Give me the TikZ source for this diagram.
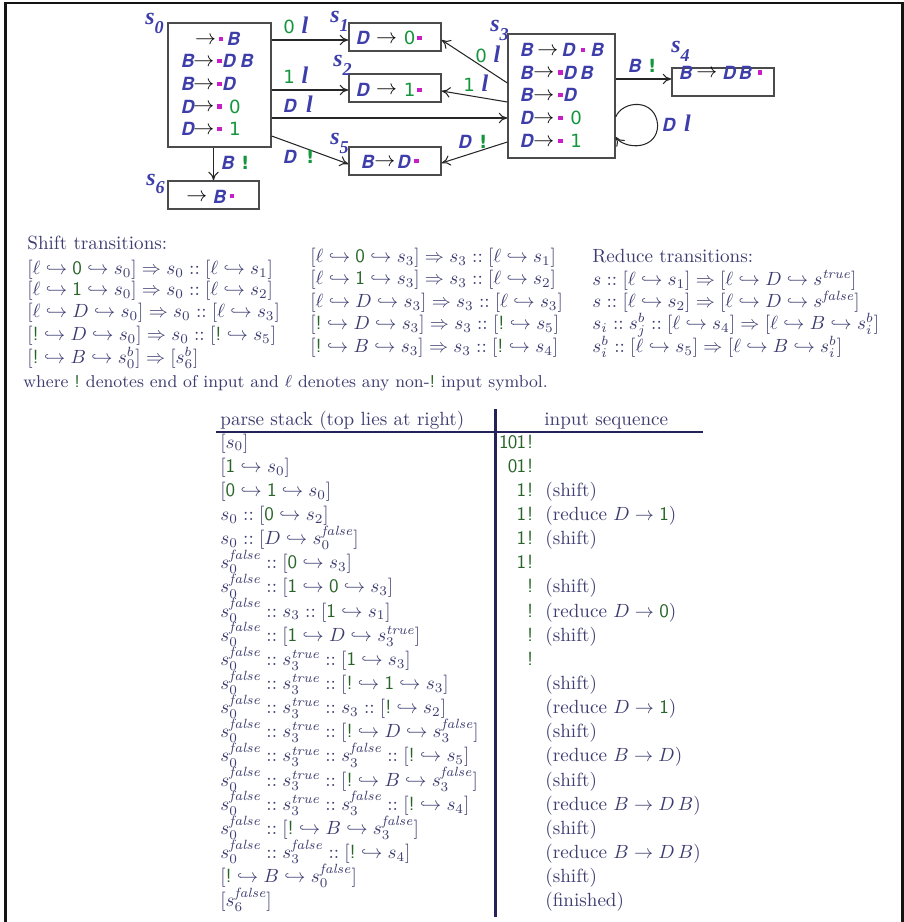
\documentclass[tikz,border=0pt]{standalone}
\usepackage{fontspec}
\usetikzlibrary{calc,arrows.meta}
\newfontfamily\hvfont{TeX Gyre Heros}
\newfontfamily\dvfont{DejaVu Sans}
\newfontfamily\lsfont{Liberation Serif}
\definecolor{dblue}{RGB}{62,62,170}
\definecolor{dgreen}{RGB}{20,150,60}
\definecolor{dmag}{RGB}{200,30,200}
\definecolor{txtc}{RGB}{60,60,112}
\definecolor{tgreen}{RGB}{40,100,40}
\definecolor{rulec}{RGB}{35,35,90}
\definecolor{boxc}{RGB}{75,75,75}
% diagram glyphs
\newcommand\Bn{{\color{dblue}\hvfont\bfseries\itshape B}}
\newcommand\Dn{{\color{dblue}\hvfont\bfseries\itshape D}}
\newcommand\arw{\raisebox{0.8pt}{\color{black}\fontsize{11}{11}\selectfont$\rightarrow$}}
\newcommand\mdot{{\color{dmag}\rule[2.4pt]{2.3pt}{2.3pt}}}
\newcommand\gZ{{\color{dgreen}\dvfont 0}}
\newcommand\gO{{\color{dgreen}\dvfont 1}}
\newcommand\gX{{\color{dgreen}\dvfont\bfseries !}}
\newcommand\ellab{{\color{dblue}\lsfont\bfseries\itshape\fontsize{12.5}{13}\selectfont l}}
\newcommand\stl[1]{{\color{dblue}\lsfont\bfseries\itshape\fontsize{12.5}{13}\selectfont s\raisebox{-4.2pt}{\fontsize{9.5}{10}\selectfont #1}}}
% text glyphs
\newcommand\tz{\mbox{\color{tgreen}\sffamily 0}}
\newcommand\tn{\mbox{\color{tgreen}\sffamily 1}}
\newcommand\tb{\mbox{\color{tgreen}\sffamily !}}
\newcommand\tcell[1]{\makebox[4.6pt]{\color{tgreen}\sffamily #1}}
\newcommand\hk{\hookrightarrow}
\newcommand\pc{\mathrel{::}}
\newcommand\fa{\mathit{false}}
\newcommand\tru{\mathit{true}}
\tikzset{
 x=0.5236pt, y=-0.5236pt,
 stbox/.style={draw=boxc, line width=0.7pt, inner sep=0pt},
 rowt/.style={anchor=base west, inner sep=0pt, font=\fontsize{9.5}{10}\selectfont},
 slab/.style={anchor=base west, inner sep=0pt},
 elab/.style={anchor=base west, inner sep=0pt, font=\fontsize{9.5}{10}\selectfont},
 conn/.style={draw=black!85, line width=0.55pt, -{To[length=4.5pt,width=5.5pt]}},
 txt/.style={anchor=base west, inner sep=0pt, text=txtc, font=\fontsize{10}{12}\selectfont},
 txtr/.style={anchor=base east, inner sep=0pt, text=txtc, font=\fontsize{10}{12}\selectfont},
 rulel/.style={draw=rulec, line width=1.1pt},
}
\begin{document}
\begin{tikzpicture}
\useasboundingbox (0,0) rectangle (904,922);
% frame
\draw[line width=1.4pt, draw=black!92] (5.3,922) -- (5.3,3) -- (902.5,3) -- (902.5,922);

% ---------- state boxes ----------
\node[stbox, minimum width=53.9pt, minimum height=64.9pt] (s0) at (219.5,85) {};
\node[stbox, minimum width=48.2pt, minimum height=14.7pt] (s1) at (395,37) {};
\node[stbox, minimum width=48.2pt, minimum height=14.7pt] (s2) at (395,88) {};
\node[stbox, minimum width=48.2pt, minimum height=14.7pt] (s5) at (395,161) {};
\node[stbox, minimum width=47.6pt, minimum height=14.7pt] (s6) at (213.5,195) {};
\node[stbox, minimum width=56pt, minimum height=64.9pt] (s3) at (561.5,96) {};
\node[stbox, minimum width=53.4pt, minimum height=14.7pt] (s4) at (723,82) {};

% state labels
\node[slab] (ls0) at (145,25) {\stl{0}};
\node[slab] (ls1) at (330,23) {\stl{1}};
\node[slab] (ls2) at (333,67) {\stl{2}};
\node[slab] (ls5) at (330,145) {\stl{5}};
\node[slab] (ls6) at (146,185) {\stl{6}};
\node[slab] (ls3) at (490,32) {\stl{3}};
\node[slab] (ls4) at (671,53) {\stl{4}};

% items of s0
\node[rowt] (s0a) at (181,45.7) {\makebox[7.2pt][l]{}\arw\hspace{1.5pt}\mdot\hspace{2pt}\Bn};
\node[rowt] (s0b) at (181,67.7) {\makebox[6.3pt][l]{\Bn}\arw\hspace{1.5pt}\mdot\hspace{0.5pt}\Dn\hspace{2.5pt}\Bn};
\node[rowt] (s0c) at (181,90.7) {\makebox[6.3pt][l]{\Bn}\arw\hspace{1.5pt}\mdot\hspace{0.5pt}\Dn};
\node[rowt] (s0d) at (181,113.3) {\makebox[6.3pt][l]{\Dn}\arw\hspace{1.5pt}\mdot\hspace{4pt}\gZ};
\node[rowt] (s0e) at (181,136) {\makebox[6.3pt][l]{\Dn}\arw\hspace{1.5pt}\mdot\hspace{4pt}\gO};
% items of s1, s2, s5, s6
\node[rowt] (s1a) at (356,45) {\Dn\hspace{3.5pt}\arw\hspace{3.5pt}\gZ\hspace{1pt}\mdot};
\node[rowt] (s2a) at (356,96.5) {\Dn\hspace{3.5pt}\arw\hspace{3.5pt}\gO\hspace{1pt}\mdot};
\node[rowt] (s5a) at (361,168) {\Bn\arw\hspace{1pt}\Dn\hspace{2pt}\mdot};
\node[rowt] (s6a) at (186,203) {\arw\hspace{3pt}\Bn\hspace{2pt}\mdot};
% items of s3
\node[rowt] (s3a) at (520,56.7) {\Bn\hspace{2pt}\arw\hspace{2pt}\Dn\hspace{3pt}\mdot\hspace{3pt}\Bn};
\node[rowt] (s3b) at (520,79.3) {\Bn\arw\hspace{2pt}\mdot\hspace{0.5pt}\Dn\hspace{2pt}\Bn};
\node[rowt] (s3c) at (520,101.7) {\Bn\arw\hspace{2pt}\mdot\hspace{0.5pt}\Dn};
\node[rowt] (s3d) at (520,125) {\Dn\arw\hspace{2pt}\mdot\hspace{4pt}\gZ};
\node[rowt] (s3e) at (520,147.7) {\Dn\arw\hspace{2pt}\mdot\hspace{4pt}\gO};
% item of s4
\node[rowt] (s4a) at (679,79.3) {\Bn\hspace{2pt}\arw\hspace{3pt}\Dn\hspace{1.5pt}\Bn\hspace{3pt}\mdot};

% ---------- connectors ----------
\coordinate (in1) at ($(s1.west)+(0,3)$);
\coordinate (in2) at ($(s2.west)+(0,2)$);
\coordinate (in3) at ($(s3.west)+(0,22)$);
\coordinate (in5) at ($(s5.west)+(0,3)$);
\draw[conn] (s0.east |- in1) -- (in1);
\draw[conn] (s0.east |- in2) -- (in2);
\draw[conn] (s0.east |- in3) -- (in3);
\draw[conn] ($(s0.east)+(0,51)$) -- (in5);
\draw[conn] (s0.south -| s6.north) -- (s6.north);
\draw[conn] ($(s3.west)+(0,-13)$) -- ($(s1.east)+(0,3)$);
\draw[conn] ($(s3.west)+(0,6)$) -- ($(s2.east)+(0,3)$);
\draw[conn] ($(s3.west)+(0,46)$) -- ($(s5.east)+(0,2)$);
\coordinate (in4) at ($(s4.west)+(0,-3)$);
\draw[conn] (s3.east |- in4) -- (in4);
\coordinate (lpA) at ($(s3.east)+(0,21)$);
\coordinate (lpB) at ($(s3.east)+(0,41)$);
\draw[conn] (lpA) .. controls ($(lpA)+(7,-17)$) and ($(lpA)+(40,-19)$) .. ($(lpA)+(42,8)$)
  .. controls ($(lpA)+(42,33)$) and ($(lpB)+(10,13)$) .. (lpB);

% connector labels
\node[elab] (e01) at (283,34) {\gZ\hspace{3.5pt}\ellab};
\node[elab] (e02) at (283,84) {\gO\hspace{3.5pt}\ellab};
\node[elab] (e03) at (283,113) {\Dn\hspace{5pt}\ellab};
\node[elab] (e05) at (283,163) {\Dn\hspace{5pt}\gX};
\node[elab] (e06) at (221,170) {\Bn\hspace{3.5pt}\gX};
\node[elab] (e31) at (475,63) {\gZ\hspace{3.5pt}\ellab};
\node[elab] (e32) at (463,92) {\gO\hspace{3.5pt}\ellab};
\node[elab] (e35) at (458,148) {\Dn\hspace{4pt}\gX};
\node[elab] (e34) at (628,73) {\Bn\hspace{3.5pt}\gX};
\node[elab] (e33) at (662,131) {\Dn\hspace{4.5pt}\ellab};

% ---------- transitions ----------
\node[txt] (shT) at (27,249) {Shift transitions:};
\node[txt] (sh1) at (27,274.3) {$[\ell\hk\tz\hk s_0]\Rightarrow s_0\pc[\ell\hk s_1]$};
\node[txt] (sh2) at (27,295.3) {$[\ell\hk\tn\hk s_0]\Rightarrow s_0\pc[\ell\hk s_2]$};
\node[txt] (sh3) at (27,317.8) {$[\ell\hk D\hk s_0]\Rightarrow s_0\pc[\ell\hk s_3]$};
\node[txt] (sh4) at (27,340.3) {$[\tb\hk D\hk s_0]\Rightarrow s_0\pc[\tb\hk s_5]$};
\node[txt] (sh5) at (27,363.8) {$[\tb\hk B\hk s_0^b]\Rightarrow[s_6^b]$};

\node[txt] (sm1) at (310,262.3) {$[\ell\hk\tz\hk s_3]\Rightarrow s_3\pc[\ell\hk s_1]$};
\node[txt] (sm2) at (310,284.8) {$[\ell\hk\tn\hk s_3]\Rightarrow s_3\pc[\ell\hk s_2]$};
\node[txt] (sm3) at (310,307.3) {$[\ell\hk D\hk s_3]\Rightarrow s_3\pc[\ell\hk s_3]$};
\node[txt] (sm4) at (310,329.8) {$[\tb\hk D\hk s_3]\Rightarrow s_3\pc[\tb\hk s_5]$};
\node[txt] (sm5) at (310,352.3) {$[\tb\hk B\hk s_3]\Rightarrow s_3\pc[\tb\hk s_4]$};

\node[txt] (rdT) at (592,262.3) {Reduce transitions:};
\node[txt] (rd1) at (592,285.3) {$s\pc[\ell\hk s_1]\Rightarrow[\ell\hk D\hk s^{\tru}]$};
\node[txt] (rd2) at (592,307.3) {$s\pc[\ell\hk s_2]\Rightarrow[\ell\hk D\hk s^{\fa}]$};
\node[txt] (rd3) at (592,329.8) {$s_i\pc s_j^b\pc[\ell\hk s_4]\Rightarrow[\ell\hk B\hk s_i^b]$};
\node[txt] (rd4) at (592,352.3) {$s_i^b\pc[\ell\hk s_5]\Rightarrow[\ell\hk B\hk s_i^b]$};

\node[txt, font=\fontsize{9}{11}\selectfont] (where) at (23,387) {where \tb{} denotes end of input and $\ell$ denotes any non-\tb{} input symbol.};

% ---------- parse table ----------
\node[txt] (hdL) at (220,425) {parse stack (top lies at right)};
\node[txt] (hdR) at (544,425) {input sequence};
\draw[rulel] (216,432.3) -- (703,432.3);
\draw[rulel] (495.5,409) -- (495.5,917);

\node[txt] (L0) at (220,448) {$[s_0]$};
\node[txt] (L1) at (220,472.15) {$[\tn\hk s_0]$};
\node[txt] (L2) at (220,496.3) {$[\tz\hk\tn\hk s_0]$};
\node[txt] (L3) at (220,520.45) {$s_0\pc[\tz\hk s_2]$};
\node[txt] (L4) at (220,544.6) {$s_0\pc[D\hk s_0^{\fa}]$};
\node[txt] (L5) at (220,568.75) {$s_0^{\fa}\pc[\tz\hk s_3]$};
\node[txt] (L6) at (220,592.9) {$s_0^{\fa}\pc[\tn\hk\tz\hk s_3]$};
\node[txt] (L7) at (220,617.05) {$s_0^{\fa}\pc s_3\pc[\tn\hk s_1]$};
\node[txt] (L8) at (220,641.2) {$s_0^{\fa}\pc[\tn\hk D\hk s_3^{\tru}]$};
\node[txt] (L9) at (220,665.35) {$s_0^{\fa}\pc s_3^{\tru}\pc[\tn\hk s_3]$};
\node[txt] (L10) at (220,689.5) {$s_0^{\fa}\pc s_3^{\tru}\pc[\tb\hk\tn\hk s_3]$};
\node[txt] (L11) at (220,713.65) {$s_0^{\fa}\pc s_3^{\tru}\pc s_3\pc[\tb\hk s_2]$};
\node[txt] (L12) at (220,737.8) {$s_0^{\fa}\pc s_3^{\tru}\pc[\tb\hk D\hk s_3^{\fa}]$};
\node[txt] (L13) at (220,761.95) {$s_0^{\fa}\pc s_3^{\tru}\pc s_3^{\fa}\pc[\tb\hk s_5]$};
\node[txt] (L14) at (220,786.1) {$s_0^{\fa}\pc s_3^{\tru}\pc[\tb\hk B\hk s_3^{\fa}]$};
\node[txt] (L15) at (220,810.25) {$s_0^{\fa}\pc s_3^{\tru}\pc s_3^{\fa}\pc[\tb\hk s_4]$};
\node[txt] (L16) at (220,834.4) {$s_0^{\fa}\pc[\tb\hk B\hk s_3^{\fa}]$};
\node[txt] (L17) at (220,858.55) {$s_0^{\fa}\pc s_3^{\fa}\pc[\tb\hk s_4]$};
\node[txt] (L18) at (220,882.7) {$[\tb\hk B\hk s_0^{\fa}]$};
\node[txt] (L19) at (220,906.85) {$[s_6^{\fa}]$};

\node[txtr] (I0) at (535,448) {\tcell{1}\tcell{0}\tcell{1}\tcell{!}};
\node[txtr] (I1) at (535,472.15) {\tcell{0}\tcell{1}\tcell{!}};
\node[txtr] (I2) at (535,496.3) {\tcell{1}\tcell{!}};
\node[txtr] (I3) at (535,520.45) {\tcell{1}\tcell{!}};
\node[txtr] (I4) at (535,544.6) {\tcell{1}\tcell{!}};
\node[txtr] (I5) at (535,568.75) {\tcell{1}\tcell{!}};
\node[txtr] (I6) at (535,592.9) {\tcell{!}};
\node[txtr] (I7) at (535,617.05) {\tcell{!}};
\node[txtr] (I8) at (535,641.2) {\tcell{!}};
\node[txtr] (I9) at (535,665.35) {\tcell{!}};

\node[txt] (R2) at (545,496.3) {(shift)};
\node[txt] (R3) at (545,520.45) {(reduce $D\rightarrow\tn$)};
\node[txt] (R4) at (545,544.6) {(shift)};
\node[txt] (R6) at (545,592.9) {(shift)};
\node[txt] (R7) at (545,617.05) {(reduce $D\rightarrow\tz$)};
\node[txt] (R8) at (545,641.2) {(shift)};
\node[txt] (R10) at (545,689.5) {(shift)};
\node[txt] (R11) at (545,713.65) {(reduce $D\rightarrow\tn$)};
\node[txt] (R12) at (545,737.8) {(shift)};
\node[txt] (R13) at (545,761.95) {(reduce $B\rightarrow D$)};
\node[txt] (R14) at (545,786.1) {(shift)};
\node[txt] (R15) at (545,810.25) {(reduce $B\rightarrow D\,B$)};
\node[txt] (R16) at (545,834.4) {(shift)};
\node[txt] (R17) at (545,858.55) {(reduce $B\rightarrow D\,B$)};
\node[txt] (R18) at (545,882.7) {(shift)};
\node[txt] (R19) at (545,906.85) {(finished)};
\end{tikzpicture}
\end{document}
